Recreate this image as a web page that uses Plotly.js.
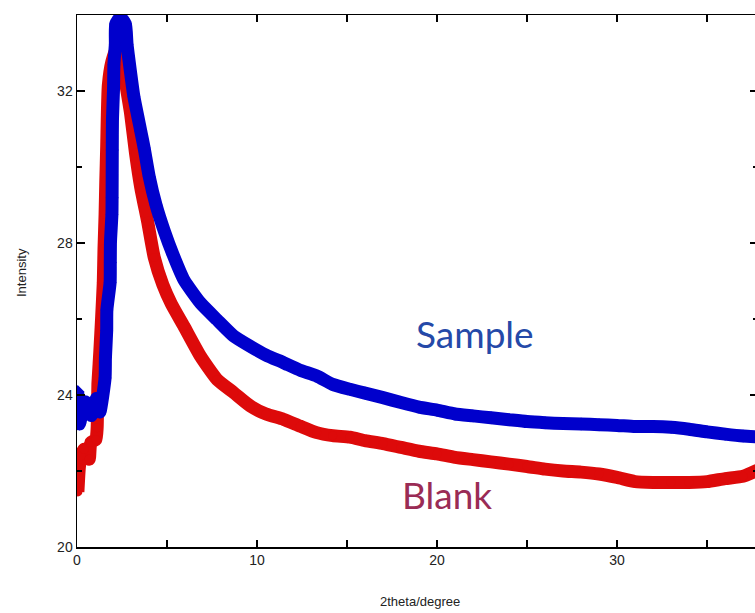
<!DOCTYPE html>
<html>
<head>
<meta charset="utf-8">
<script src="https://cdn.plot.ly/plotly-3.0.1.min.js"></script>
<style>
html,body{margin:0;padding:0;overflow:hidden;background:#fff;}
#chart{width:758px;height:613px;}
</style>
</head>
<body>
<div id="chart"></div>
<script>
// Sample (blue) series
var sampleX = [0.04,0.14,0.43,0.71,0.80,1.08,1.27,1.56,1.58,1.65,1.66,1.84,1.85,1.86,1.94,1.95,1.96,1.97,2.03,2.05,2.13,2.15,2.41,2.69,2.78,2.97,3.16,3.54,3.73,4.01,4.39,4.86,5.33,5.94,6.86,7.78,8.71,9.63,10.5,11.47,12.4,13.32,14.2,15.16,16,17,18,19,20,21,22,23,24,25,26,27,28,29,30,31,32,33,34,35,36,37,37.8];
var sampleY = [24.09,23.24,23.82,23.73,23.46,23.91,23.55,24.45,24.98,25.70,26.24,26.96,27.49,28.03,28.75,29.19,30.45,31.25,32.06,32.69,33.23,33.76,33.94,33.76,33.23,32.51,31.85,30.95,30.50,29.75,29.00,28.30,27.70,27.03,26.42,25.98,25.55,25.28,25.05,24.85,24.65,24.50,24.28,24.15,24.05,23.93,23.80,23.68,23.60,23.50,23.45,23.40,23.35,23.30,23.27,23.25,23.24,23.22,23.20,23.17,23.17,23.15,23.10,23.03,22.97,22.92,22.90];

// Blank (red) series
var blankX = [0.05,0.13,0.22,0.40,0.68,0.77,1.05,1.12,1.14,1.16,1.18,1.27,1.37,1.46,1.50,1.56,1.60,1.65,1.68,1.74,1.94,2.22,2.50,2.69,2.97,3.25,3.54,3.92,4.29,4.77,5.24,5.94,6.86,7.78,8.71,9.63,10.5,11.47,12.4,13.32,14.2,15.16,16,17,18,19,20,21,22,23,24,25,26,27,28,29,30,31,32,33,34,35,36,37,37.8];
var blankY = [21.45,22.09,22.40,22.57,22.31,22.75,22.83,23.14,23.62,24.28,24.45,25.16,26.06,26.96,27.85,28.75,29.64,30.54,31.25,32.15,32.78,33.14,32.78,32.24,31.43,30.36,29.46,28.57,27.62,26.90,26.40,25.81,25.02,24.41,24.06,23.71,23.50,23.36,23.18,23.01,22.93,22.89,22.80,22.72,22.62,22.52,22.45,22.36,22.30,22.24,22.18,22.12,22.05,22.00,21.97,21.92,21.83,21.72,21.70,21.70,21.70,21.72,21.80,21.86,22.02];

var xTickVals = [0,10,20,30];
var yTickVals = [20,24,28,32];
var xTitle = '2theta/degree';
var yTitle = 'Intensity';
var labels = [
  {text:'Sample', x:22.1, y:25.63, color:'#2549a8'},
  {text:'Blank',  x:20.58, y:21.39, color:'#9a2c55'}
];

var traces = [
  {x: blankX, y: blankY, type:'scatter', mode:'lines+markers',
   line:{color:'#dd0a0a', width:13, shape:'spline', smoothing:0.5},
   marker:{color:'#dd0a0a', size:9, symbol:'circle'}, hoverinfo:'skip'},
  {x: sampleX, y: sampleY, type:'scatter', mode:'lines+markers',
   line:{color:'#0000cc', width:13, shape:'spline', smoothing:0.5},
   marker:{color:'#0000cc', size:10, symbol:'diamond'}, hoverinfo:'skip'}
];

var axisCommon = {
  showgrid:false, zeroline:false, showline:true, linecolor:'#000', linewidth:1.5,
  mirror:'ticks', ticks:'inside', tickcolor:'#000', tickwidth:1.2,
  tickfont:{family:'Liberation Sans, Arial, sans-serif', size:14, color:'#222'}
};

var layout = {
  width:758, height:613,
  margin:{l:77, r:0, t:15, b:66},
  paper_bgcolor:'#fff', plot_bgcolor:'#fff',
  showlegend:false,
  xaxis: Object.assign({}, axisCommon, {
    range:[0,37.83], tickmode:'array', tickvals:xTickVals, ticklen:7,
    minor:{dtick:5, tick0:0, ticks:'inside', ticklen:7, tickcolor:'#000', tickwidth:1.2}
  }),
  yaxis: Object.assign({}, axisCommon, {
    range:[20,34], tickmode:'array', tickvals:yTickVals, ticklen:8,
    minor:{dtick:2, tick0:20, ticks:'inside', ticklen:5, tickcolor:'#000', tickwidth:1.2}
  }),
  annotations: [
    {text:xTitle, xref:'paper', yref:'paper', x:0.504, y:0, yshift:-54, yanchor:'middle', xanchor:'center', showarrow:false,
     font:{family:'Liberation Sans, Arial, sans-serif', size:13, color:'#222'}},
    {text:yTitle, xref:'paper', yref:'paper', x:0, y:0.515, xshift:-56, xanchor:'center', yanchor:'middle', textangle:-90, showarrow:false,
     font:{family:'Liberation Sans, Arial, sans-serif', size:13, color:'#222'}}
  ].concat(labels.map(function(l){
    return {text:l.text, x:l.x, y:l.y, xref:'x', yref:'y', showarrow:false, xanchor:'center', yanchor:'middle',
            font:{family:'Lato, Open Sans, sans-serif', size:37, color:l.color}};
  }))
};

Plotly.newPlot('chart', traces, layout, {staticPlot:true, displayModeBar:false});
</script>
</body>
</html>
